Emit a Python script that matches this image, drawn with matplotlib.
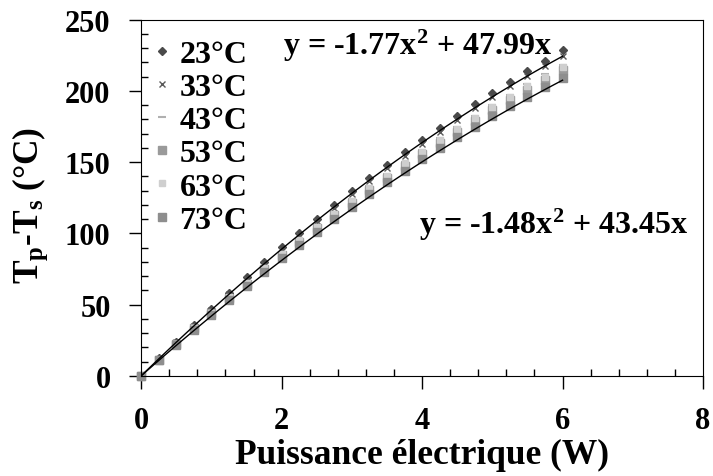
import numpy as np
import matplotlib.pyplot as plt

plt.rcParams['font.family'] = 'Liberation Serif'
plt.rcParams['font.weight'] = 'bold'
plt.rcParams['mathtext.fontset'] = 'custom'
plt.rcParams['mathtext.rm'] = 'Liberation Serif:bold'
plt.rcParams['mathtext.it'] = 'Liberation Serif:bold'
plt.rcParams['mathtext.bf'] = 'Liberation Serif:bold'

# puissance (W)
power = [0, 0.25, 0.5, 0.75, 1, 1.25, 1.5, 1.75, 2, 2.25, 2.5, 2.75, 3,
         3.25, 3.5, 3.75, 4, 4.25, 4.5, 4.75, 5, 5.25, 5.5, 5.75, 6]

t23 = [0, 12.2, 24.0, 35.6, 47.0, 58.1, 69.0, 79.7, 90.1, 100.3, 110.3, 120.0, 129.6,
       138.9, 148.0, 157.0, 165.7, 174.2, 182.5, 190.6, 198.5, 206.2, 213.8, 221.2, 228.4]
t33 = [0, 12.0, 23.6, 35.0, 46.2, 57.1, 67.8, 78.3, 88.6, 98.6, 108.4, 118.0, 127.4,
       136.6, 145.6, 154.4, 163.0, 171.4, 179.6, 187.6, 195.4, 203.0, 210.4, 217.6, 224.6]
t43 = [0, 11.6, 23.0, 34.1, 45.0, 55.6, 66.0, 76.2, 86.2, 96.0, 105.5, 114.9, 124.0,
       132.9, 141.6, 150.2, 158.5, 166.6, 174.6, 182.3, 189.9, 197.3, 204.5, 211.5, 218.3]
t53 = [0, 11.3, 22.4, 33.3, 44.0, 54.4, 64.7, 74.7, 84.5, 94.1, 103.5, 112.6, 121.6,
       130.4, 139.0, 147.4, 155.6, 163.6, 171.4, 179.0, 186.4, 193.7, 200.7, 207.6, 214.3]
t63 = [0, 11.4, 22.6, 33.6, 44.4, 55.0, 65.3, 75.4, 85.3, 95.0, 104.5, 113.8, 122.9,
       131.8, 140.5, 149.0, 157.3, 165.4, 173.3, 181.0, 188.5, 195.8, 203.0, 210.0, 216.8]
t73 = [0, 11.0, 21.8, 32.4, 42.8, 53.0, 63.0, 72.8, 82.4, 91.8, 101.0, 110.0, 118.8,
       127.4, 135.8, 144.0, 152.0, 159.8, 167.4, 174.8, 182.0, 189.0, 195.8, 202.4, 208.8]

series = [('23°C', t23), ('33°C', t33), ('43°C', t43),
          ('53°C', t53), ('63°C', t63), ('73°C', t73)]

# tendances polynomiales affichées
fit_high = [-1.77, 47.99, 0]
fit_low = [-1.48, 43.45, 0]

styles = [dict(marker='D', color='#4a4a4a', ms=4),
          dict(marker='x', color='#5a5a5a', ms=5, mew=1),
          dict(marker='_', color='#b0b0b0', ms=6, mew=1.5),
          dict(marker='s', color='#9a9a9a', ms=5.5),
          dict(marker='s', color='#cfcfcf', ms=4),
          dict(marker='s', color='#8e8e8e', ms=5.5)]

fig = plt.figure(figsize=(7.13, 4.77), dpi=100)
ax = fig.add_axes([0.198, 0.21, 0.788, 0.747])

for (lab, vals), st in zip(series, styles):
    ax.plot(power, vals, linestyle='none', label=lab, clip_on=False, **st)

xf = np.linspace(0, 6, 100)
ax.plot(xf, np.polyval(fit_high, xf), color='black', lw=1)
ax.plot(xf, np.polyval(fit_low, xf), color='black', lw=1)

ax.text(0.253, 0.903, 'y = -1.77x$^{2}$ + 47.99x', transform=ax.transAxes,
        fontsize=23, fontweight='bold', va='baseline')
ax.text(0.494, 0.40, 'y = -1.48x$^{2}$ + 43.45x', transform=ax.transAxes,
        fontsize=23, fontweight='bold', va='baseline')

ax.set_xlim(0, 8)
ax.set_ylim(0, 250)
ax.set_xticks([0, 2, 4, 6, 8])
ax.set_yticks([0, 50, 100, 150, 200, 250])
ax.set_xticks(np.arange(0, 8.01, 0.4), minor=True)
ax.set_yticks(np.arange(0, 250.1, 10), minor=True)
ax.tick_params(which='major', direction='out', length=9, width=1, labelsize=22, pad=13)
ax.tick_params(which='minor', direction='in', length=5, width=1)
for lbl in ax.get_xticklabels() + ax.get_yticklabels():
    lbl.set_fontweight('bold')

ax.set_xlabel('Puissance électrique (W)', fontsize=25.5, fontweight='bold', labelpad=2)
ax.set_ylabel('T$_{p}$-T$_{s}$ (°C)', fontsize=25.5, fontweight='bold', va='center')
ax.yaxis.set_label_coords(-0.197, 0.48)

ax.legend(loc='upper left', bbox_to_anchor=(0.0, 0.98), frameon=False,
          prop={'size': 23, 'weight': 'bold'}, handlelength=0.5, handletextpad=0.3,
          labelspacing=0.12, borderaxespad=0.0)

plt.savefig('out.png', dpi=100)
